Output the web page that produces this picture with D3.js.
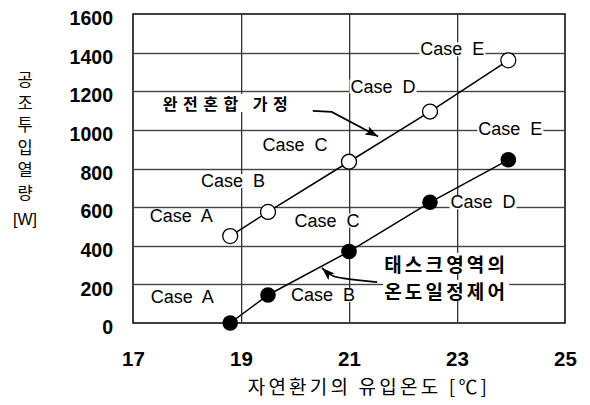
<!DOCTYPE html>
<html><head><meta charset="utf-8">
<script src="https://cdn.jsdelivr.net/npm/d3@7"></script>
<style>body{margin:0;background:#fff}svg{display:block}</style>
</head><body>
<svg id="c" width="590" height="405"></svg>
<script>
// ---- data ----
const xTicks = [17, 19, 21, 23, 25];
const yTicks = [0, 200, 400, 600, 800, 1000, 1200, 1400, 1600];
const cases = ["A", "B", "C", "D", "E"];
const inletTemp = [18.8, 19.5, 21, 22.5, 23.95];
const fullMixing = [450, 575, 835, 1095, 1360];
const taskControl = [0, 145, 370, 625, 845];
const yTitle = ["공", "조", "투", "입", "열", "량"];
const yUnit = "[W]";
const xTitle = "자연환기의 유입온도 [℃]";
const annoMixing = "완전혼합 가정";
const annoTask = ["태스크영역의", "온도일정제어"];

// ---- layout ----
const svg = d3.select("#c");
const L = 133, R = 565, T = 14, B = 323;
const x = d3.scaleLinear().domain([17, 25]).range([L, R]);
const y = d3.scaleLinear().domain([0, 1600]).range([B, T]);
const latin = "'Liberation Sans', Arial, sans-serif";
const kr = "'Noto Sans CJK KR', sans-serif";

// frame first
svg.append("rect").attr("x", L).attr("y", T).attr("width", R - L).attr("height", B - T)
  .style("fill", "none").style("stroke", "#000").style("stroke-width", "1.5px");

// grid lines as thin filled rects
const gridG = svg.append("g");
gridG.selectAll("rect.h").data(yTicks.slice(1, -1)).join("rect").attr("class", "h")
  .attr("x", L).attr("width", R - L).attr("y", d => Math.round(y(d)) - 0.2).attr("height", 1.4)
  .style("fill", "#444");
gridG.selectAll("rect.v").data(xTicks.slice(1, -1)).join("rect").attr("class", "v")
  .attr("y", T).attr("height", B - T).attr("x", d => Math.round(x(d))).attr("width", 1.3)
  .style("fill", "#333");

// tick labels via axes
svg.append("g").attr("transform", `translate(${L},0)`)
  .call(d3.axisLeft(y).tickValues(yTicks).tickSize(0).tickPadding(20).tickFormat(d3.format("d")))
  .call(g => g.select(".domain").remove())
  .call(g => g.selectAll("text").attr("font-family", latin).attr("font-weight", "bold")
    .attr("font-size", 19.5).attr("fill", "#000").attr("dy", "0.55em"));
svg.append("g").attr("transform", `translate(0,${B})`)
  .call(d3.axisBottom(x).tickValues(xTicks).tickSize(0).tickPadding(28).tickFormat(d3.format("d")))
  .call(g => g.select(".domain").remove())
  .call(g => g.selectAll("text").attr("font-family", latin).attr("font-weight", "bold")
    .attr("font-size", 20.5).attr("fill", "#000"));

// label helper with white background
function label(g, px, py, txt, opts) {
  const t = g.append("text").attr("x", px).attr("y", py)
    .attr("text-anchor", "middle").attr("dominant-baseline", "central")
    .attr("font-family", opts.family).attr("font-size", opts.size)
    .attr("font-weight", opts.weight || "normal")
    .attr("letter-spacing", opts.ls || 0)
    .style("white-space", "pre").text(txt);
  const bb = t.node().getBBox();
  g.insert("rect", "text").attr("x", bb.x - 1).attr("y", bb.y + 3)
    .attr("width", bb.width + 2).attr("height", Math.max(0, bb.height - 6)).style("fill", "#fff");
  return t;
}

const labelsG = svg.append("g");
const openOff = [[-49, -20], [-35, -31], [-54, -17], [-47, -25], [-56, -11]];
const fillOff = [[-48, -26], [55, 0], [-22, -31], [53, 0], [2, -31]];
const caseFont = { family: latin, size: 18 };
cases.forEach((c, i) => {
  label(labelsG.append("g"), x(inletTemp[i]) + openOff[i][0], y(fullMixing[i]) + openOff[i][1], "Case  " + c, caseFont);
  label(labelsG.append("g"), x(inletTemp[i]) + fillOff[i][0], y(taskControl[i]) + fillOff[i][1], "Case  " + c, caseFont);
});

// annotations text
const annoG = svg.append("g");
label(annoG.append("g"), x(18.76), y(1139), annoMixing, { family: kr, size: 16, weight: "bold", ls: 5.5 });
label(annoG.append("g"), x(22.8), y(309), annoTask[0], { family: kr, size: 19, weight: "bold", ls: 3.2 });
label(annoG.append("g"), x(22.8), y(168), annoTask[1], { family: kr, size: 19, weight: "bold", ls: 3.2 });

// arrowhead marker
svg.append("defs").append("marker").attr("id", "ah")
  .attr("viewBox", "0 0 13 9").attr("refX", 13).attr("refY", 4.5)
  .attr("markerWidth", 13).attr("markerHeight", 9).attr("markerUnits", "userSpaceOnUse")
  .attr("orient", "auto")
  .append("path").attr("d", "M0,0 L13,4.5 L0,9 L3,4.5 Z").style("fill", "#000");

const arrow1 = [[20.33, 1098], [20.68, 1093], [21.54, 966]];
svg.append("path")
  .attr("d", d3.line().x(d => x(d[0])).y(d => y(d[1]))(arrow1))
  .style("fill", "none").style("stroke", "#000").style("stroke-width", "1.7px")
  .attr("marker-end", "url(#ah)");
const arrow2 = [[21.52, 212], [20.96, 228], [20.68, 238], [20.5, 285]];
svg.append("path")
  .attr("d", d3.line().x(d => x(d[0])).y(d => y(d[1])).curve(d3.curveBasis)(arrow2))
  .style("fill", "none").style("stroke", "#000").style("stroke-width", "1.7px")
  .attr("marker-end", "url(#ah)");

// series lines
const line = d3.line().x(d => x(d[0])).y(d => y(d[1]));
const openPts = inletTemp.map((t, i) => [t, fullMixing[i]]);
const fillPts = inletTemp.map((t, i) => [t, taskControl[i]]);
svg.append("path").attr("d", line(openPts)).style("fill", "none").style("stroke", "#000").style("stroke-width", "1.5px");
svg.append("path").attr("d", line(fillPts)).style("fill", "none").style("stroke", "#000").style("stroke-width", "1.5px");

svg.append("g").selectAll("circle").data(openPts).join("circle")
  .attr("cx", d => x(d[0])).attr("cy", d => y(d[1])).attr("r", 7.5)
  .style("fill", "#fff").style("stroke", "#000").style("stroke-width", "1.3px");
svg.append("g").selectAll("circle").data(fillPts).join("circle")
  .attr("cx", d => x(d[0])).attr("cy", d => y(d[1])).attr("r", 7.8)
  .style("fill", "#000");

// axis titles
svg.append("g").selectAll("text").data(yTitle).join("text")
  .attr("x", 25).attr("y", (d, i) => 79 + i * 22.6)
  .attr("text-anchor", "middle").attr("dominant-baseline", "central")
  .attr("font-family", kr).attr("font-size", 16.5).text(d => d);
svg.append("text").attr("x", 25).attr("y", 219)
  .attr("text-anchor", "middle").attr("dominant-baseline", "central")
  .attr("font-family", latin).attr("font-size", 16).text(yUnit);
svg.append("text").attr("x", 369).attr("y", 385)
  .attr("text-anchor", "middle").attr("dominant-baseline", "central")
  .attr("font-family", kr).attr("font-size", 19).attr("letter-spacing", 3.2)
  .text(xTitle);
</script>
</body></html>
